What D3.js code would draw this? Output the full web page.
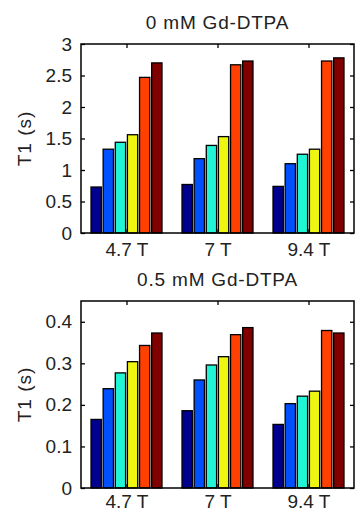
<!DOCTYPE html>
<html>
<head>
<meta charset="utf-8">
<script src="https://cdn.jsdelivr.net/npm/d3@7"></script>
<style>
  body { margin: 0; background: #fff; }
  text { font-family: 'Liberation Sans', Arial, sans-serif; fill: #222; }
</style>
</head>
<body>
<div id="chart"></div>
<script>
// field strengths (groups) and the six series in each group
const fields = ['4.7 T', '7 T', '9.4 T'];
const seriesColors = ['#00008f', '#0050ff', '#22f5d5', '#eef510', '#ff4000', '#800000'];

// T1 (s) per field, six bars each
const t1_0mM = [
  [0.73, 1.33, 1.44, 1.56, 2.47, 2.70],
  [0.77, 1.18, 1.39, 1.53, 2.67, 2.73],
  [0.74, 1.10, 1.25, 1.33, 2.73, 2.78]
];
const t1_05mM = [
  [0.165, 0.239, 0.277, 0.304, 0.343, 0.373],
  [0.186, 0.260, 0.296, 0.316, 0.369, 0.386],
  [0.153, 0.203, 0.221, 0.233, 0.379, 0.373]
];

const yTicks0 = [0, 0.5, 1, 1.5, 2, 2.5, 3];
const yTicks05 = [0, 0.1, 0.2, 0.3, 0.4];

const W = 361, H = 512;
const svg = d3.select('#chart').append('svg')
    .attr('width', W).attr('height', H);

const plot_panel = function(opts) {
  const {title, values, yDomain, yTicks, top, bottom, xPad} = opts;
  const left = 81, right = 354;

  const x = d3.scaleBand().domain(fields).range([left, right])
      .paddingInner(0.22).paddingOuter(0.11);
  const xs = d3.scaleBand().domain(d3.range(seriesColors.length))
      .range([0, x.bandwidth()]).paddingInner(0.15).paddingOuter(0);
  const y = d3.scaleLinear().domain(yDomain).range([bottom, top]);

  const g = svg.append('g');

  // bars
  const grp = g.selectAll('g.grp').data(values).enter().append('g')
      .attr('class', 'grp')
      .attr('transform', (d, i) => `translate(${x(fields[i])},0)`);
  grp.selectAll('rect').data(d => d).enter().append('rect')
      .attr('x', (d, i) => xs(i))
      .attr('width', xs.bandwidth())
      .attr('y', d => y(d))
      .attr('height', d => y(0) - y(d))
      .attr('fill', (d, i) => seriesColors[i])
      .attr('stroke', '#000')
      .attr('stroke-width', 1.3);

  const fmt = d3.format('');
  const tickCentre = d => x(d) + x.bandwidth() / 2;
  const xc = d3.scalePoint().domain(fields)
      .range([tickCentre(fields[0]), tickCentre(fields[fields.length - 1])]);

  // axes, ticks inward
  g.append('g').attr('transform', `translate(0,${bottom})`)
      .call(d3.axisBottom(xc).tickSizeInner(-4).tickSizeOuter(0).tickPadding(xPad))
      .call(a => a.select('.domain').remove())
      .call(a => a.selectAll('text').style('font-size', '19px'));
  g.append('g').attr('transform', `translate(0,${top})`)
      .call(d3.axisTop(xc).tickSizeInner(-4).tickSizeOuter(0).tickFormat(''))
      .call(a => a.select('.domain').remove());
  g.append('g').attr('transform', `translate(${left},0)`)
      .call(d3.axisLeft(y).tickValues(yTicks).tickFormat(fmt)
          .tickSizeInner(-4).tickSizeOuter(0).tickPadding(9))
      .call(a => a.select('.domain').remove())
      .call(a => a.selectAll('text').style('font-size', '19px'));
  g.append('g').attr('transform', `translate(${right},0)`)
      .call(d3.axisRight(y).tickValues(yTicks).tickFormat('')
          .tickSizeInner(-4).tickSizeOuter(0))
      .call(a => a.select('.domain').remove());
  g.selectAll('.tick line').attr('stroke', '#000').attr('stroke-width', 1.3);

  // box
  g.append('rect')
      .attr('x', left).attr('y', top)
      .attr('width', right - left).attr('height', bottom - top)
      .attr('fill', 'none').attr('stroke', '#000').attr('stroke-width', 1.5);

  // title
  g.append('text')
      .attr('x', (left + right) / 2).attr('y', top - 15)
      .attr('text-anchor', 'middle')
      .style('font-size', '19px')
      .style('letter-spacing', '0.8px')
      .text(title);

  // y label
  g.append('text')
      .attr('transform', `translate(31,${(top + bottom) / 2}) rotate(-90)`)
      .attr('text-anchor', 'middle')
      .style('font-size', '19px')
      .style('letter-spacing', '1px')
      .text('T1 (s)');
};

plot_panel({title: '0 mM Gd-DTPA', values: t1_0mM, yDomain: [0, 3],
            yTicks: yTicks0, top: 44, bottom: 233, xPad: 10});
plot_panel({title: '0.5 mM Gd-DTPA', values: t1_05mM, yDomain: [0, 0.45],
            yTicks: yTicks05, top: 301, bottom: 488, xPad: 7});
</script>
</body>
</html>
